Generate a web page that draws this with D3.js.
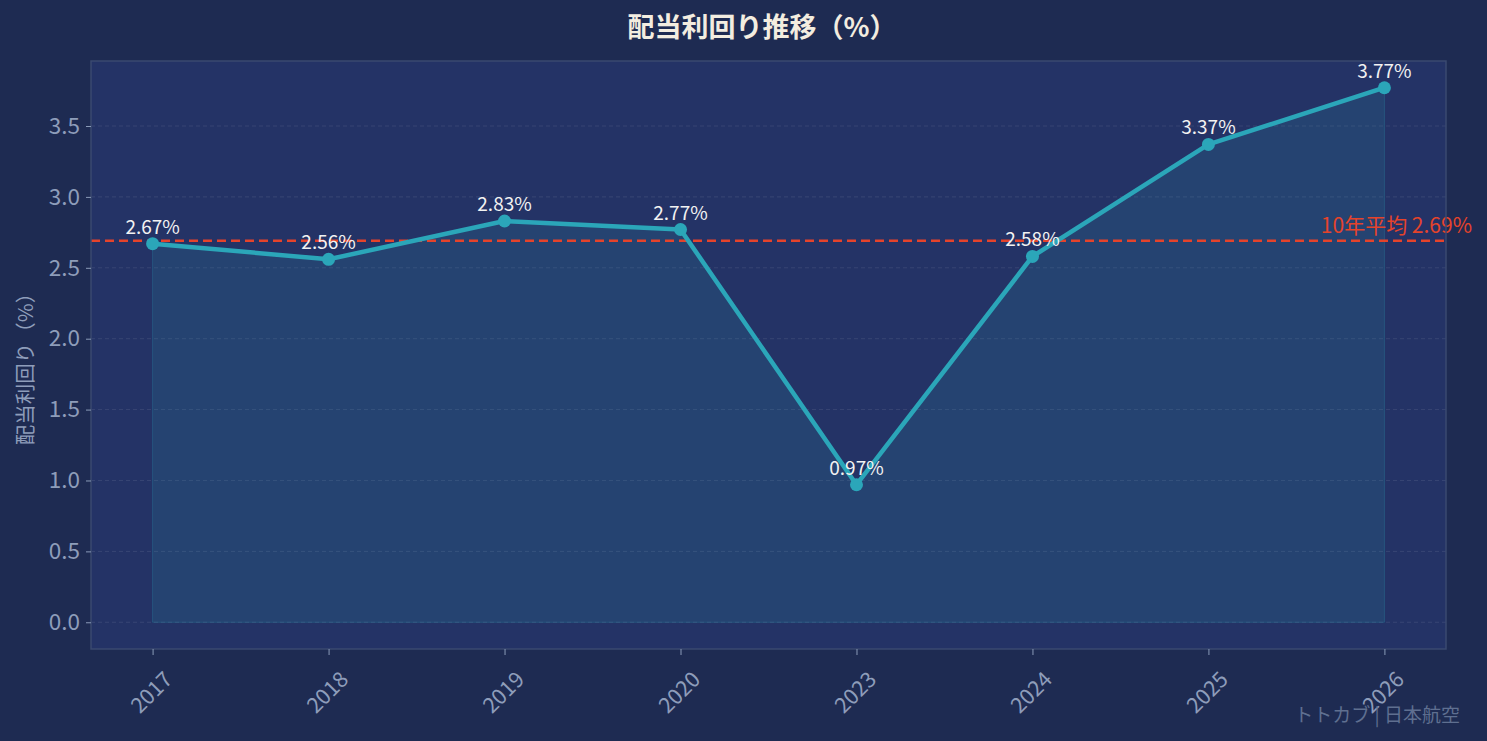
<!DOCTYPE html>
<html><head><meta charset="utf-8">
<script src="https://cdn.jsdelivr.net/npm/d3@7"></script>
<style>
html,body{margin:0;padding:0;background:#1e2b52;}
svg{display:block;font-family:"Noto Sans CJK JP","Noto Sans",sans-serif;}
</style></head><body>
<svg id="c" width="1487" height="741"></svg>
<script>
const years = ["2017","2018","2019","2020","2023","2024","2025","2026"];
const yields = [2.67, 2.56, 2.83, 2.77, 0.97, 2.58, 3.37, 3.77];
const avgYield = 2.69;
const yTicks = [0.0, 0.5, 1.0, 1.5, 2.0, 2.5, 3.0, 3.5];
const titleText = "配当利回り推移（%）";
const yLabel = "配当利回り（%）";
const avgLabel = "10年平均 2.69%";
const credit = "トトカブ | 日本航空";

const W = 1487, H = 741;
const m = {left: 91, right: 1446, top: 61, bottom: 649};
const svg = d3.select("#c");
svg.append("rect").attr("width", W).attr("height", H).attr("fill", "#1e2b52");

const n = years.length;
const x = d3.scaleLinear().domain([-0.35, n - 1 + 0.35]).range([m.left, m.right]);
const yMax = d3.max(yields);
const y = d3.scaleLinear().domain([-0.05 * yMax, yMax * 1.05]).range([m.bottom, m.top]);

// axes background
svg.append("rect").attr("x", m.left).attr("y", m.top)
  .attr("width", m.right - m.left).attr("height", m.bottom - m.top)
  .attr("fill", "#243366");

// grid
svg.append("g").selectAll("line").data(yTicks).join("line")
  .attr("x1", m.left).attr("x2", m.right)
  .attr("y1", d => y(d)).attr("y2", d => y(d))
  .attr("stroke", "rgba(255,255,255,0.09)").attr("stroke-width", 1)
  .attr("stroke-dasharray", "4,3");

// area
const area = d3.area().x((d, i) => x(i)).y0(y(0)).y1(d => y(d));
svg.append("path").datum(yields).attr("d", area)
  .attr("fill", "rgba(46,164,184,0.15)")
  .attr("stroke", "rgba(46,164,184,0.25)").attr("stroke-width", 1);

// avg line
svg.append("line").attr("x1", m.left).attr("x2", m.right)
  .attr("y1", y(avgYield)).attr("y2", y(avgYield))
  .attr("stroke", "#e5432b").attr("stroke-width", 2.5)
  .attr("stroke-dasharray", "9,5");

// line
const line = d3.line().x((d, i) => x(i)).y(d => y(d));
svg.append("path").datum(yields).attr("d", line)
  .attr("fill", "none").attr("stroke", "#2ba6b9").attr("stroke-width", 4.5)
  .attr("stroke-linejoin", "round");

svg.append("g").selectAll("circle").data(yields).join("circle")
  .attr("cx", (d, i) => x(i)).attr("cy", d => y(d)).attr("r", 6.5)
  .attr("fill", "#2ba6b9");

// value labels
svg.append("g").selectAll("text").data(yields).join("text")
  .attr("x", (d, i) => x(i)).attr("y", d => y(d) - 10)
  .attr("text-anchor", "middle").attr("fill", "#f2f2f2")
  .attr("font-size", 19)
  .text(d => d.toFixed(2) + "%");

// avg label
svg.append("text").attr("x", 1472).attr("y", 233)
  .attr("text-anchor", "end").attr("fill", "#e5432b").attr("font-size", 21)
  .text(avgLabel);

// spines
svg.append("rect").attr("x", m.left).attr("y", m.top)
  .attr("width", m.right - m.left).attr("height", m.bottom - m.top)
  .attr("fill", "none").attr("stroke", "#3a4a70").attr("stroke-width", 1.5);

// y axis
const yAxis = d3.axisLeft(y).tickValues(yTicks).tickFormat(d3.format(".1f"))
  .tickSize(5).tickPadding(6);
const gy = svg.append("g").attr("transform", `translate(${m.left},0)`).call(yAxis);
gy.select(".domain").remove();
gy.selectAll("line").attr("stroke", "#8a9bb8");
gy.selectAll("text").attr("fill", "#8e9dba").attr("font-size", 22.5)
  .attr("font-family", "'Noto Sans CJK JP',sans-serif");

// x axis
const xAxis = d3.axisBottom(x).tickValues(d3.range(n)).tickFormat(i => years[i])
  .tickSize(6).tickPadding(0);
const gx = svg.append("g").attr("transform", `translate(0,${m.bottom})`).call(xAxis);
gx.select(".domain").remove();
gx.selectAll("line").attr("stroke", "#8a9bb8");
gx.selectAll("text")
  .attr("fill", "#8e9dba").attr("font-size", 21.5)
  .attr("font-family", "'Noto Sans CJK JP',sans-serif")
  .attr("text-anchor", "middle").attr("dy", null).attr("y", null)
  .attr("dominant-baseline", "central")
  .attr("transform", "translate(-3,42) rotate(-45)");

// y label
svg.append("text").attr("transform", `translate(24,364) rotate(-90)`)
  .attr("text-anchor", "middle").attr("dominant-baseline", "central")
  .attr("fill", "#8e9dba").attr("font-size", 20.5).text(yLabel);

// title
svg.append("text").attr("x", 762).attr("y", 37)
  .attr("text-anchor", "middle").attr("fill", "#f3ede0")
  .attr("font-size", 27).attr("font-weight", "bold").text(titleText);

// credit
svg.append("text").attr("x", 1460).attr("y", 722)
  .attr("text-anchor", "end").attr("fill", "#5f6f90").attr("font-size", 19)
  .text(credit);
</script>
</body></html>
